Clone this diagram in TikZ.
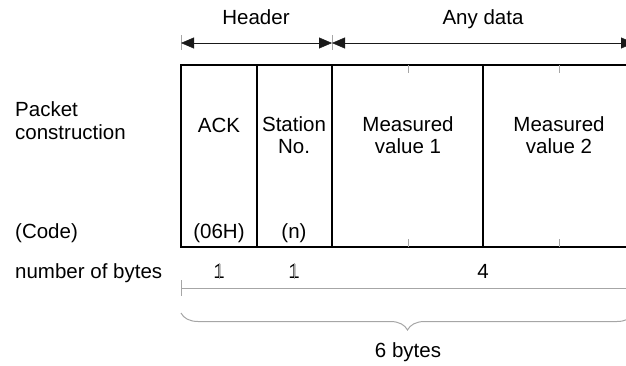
\documentclass[tikz,border=0pt]{standalone}
\usepackage{fontspec}
\setmainfont{Liberation Sans}
\usetikzlibrary{arrows.meta,calc,decorations.pathreplacing}
\begin{document}
\begin{tikzpicture}[x=1pt,y=-1pt,>={Triangle[length=13pt,width=11pt]},
 font=\fontsize{20.5}{22.5}\selectfont,
 txt/.style={inner sep=0pt,anchor=base},
 ltxt/.style={inner sep=0pt,anchor=base west,align=left},
 tick/.style={gray!70,line width=1pt},
 cell/.style={line width=1.4pt}]
\useasboundingbox (0,0) rectangle (626,365);
\clip (0,0) rectangle (626,365);
% column edges
\foreach \n/\x in {0/181,1/257,2/332,3/483,4/634}
 { \coordinate (a\n) at (\x,43); \coordinate (t\n) at (\x,65); \coordinate (b\n) at (\x,247); \coordinate (n\n) at (\x,288); }
% header arrows
\draw[tick] (181,35) -- (181,50); \draw[tick] (332,35) -- (332,50);
\draw[<->,black!90] (a0) -- (a2);
\draw[<->,black!90] (a2) -- (a4);
\node[txt] (hdr) at (256,24) {Header};
\node[txt] (any) at (483,24) {Any data};
% packet cells
\foreach \i/\j in {0/1,1/2,2/3,3/4} { \draw[cell] (t\i) rectangle (b\j); }
\foreach \x in {408,559} { \draw[tick] (\x,65) -- (\x,73); \draw[tick] (\x,247) -- (\x,239); }
\node[ltxt] (pkt) at (15,139) {Packet\\construction};
\node[txt] (ack) at (219,132) {ACK};
\node[txt,align=center] (stn) at (294,153.5) {Station\\No.};
\node[txt,align=center] (mv1) at (408,153.5) {Measured\\value 1};
\node[txt,align=center] (mv2) at (559,153.5) {Measured\\value 2};
\node[ltxt] (code) at (15,238) {(Code)};
\node[txt] (c1) at (219,238) {(06H)};
\node[txt] (c2) at (294,238) {(n)};
% byte counts
\node[ltxt] (nob) at (15,278) {number of bytes};
\node[txt] (n1) at (219,278) {1};
\node[txt] (n2) at (294,278) {1};
\node[txt] (n3) at (483,278) {4};
\draw[tick] (n0) -- (n4);
\foreach \i in {0,1,2} { \draw[tick] ($(n\i)+(0,-8)$) -- ($(n\i)+(0,8)$); }
\draw[tick,decorate,decoration={brace,mirror,amplitude=17pt}] (181,313) -- (634,313);
\node[txt] (tot) at (408,357) {6 bytes};
\end{tikzpicture}
\end{document}
